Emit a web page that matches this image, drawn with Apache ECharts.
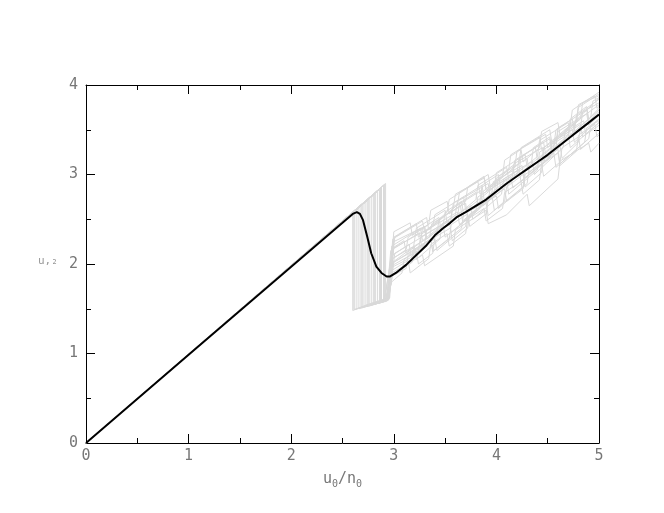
<!DOCTYPE html>
<html><head><meta charset="utf-8">
<script src="https://cdn.jsdelivr.net/npm/echarts@6/dist/echarts.min.js"></script>
<style>html,body{margin:0;padding:0;background:#fff}#c{width:664px;height:513px}</style>
</head><body><div id="c"></div>
<script>
// Mean curve (black)
const meanLine = [[0,0],[1,0.985],[2,1.97],[2.5,2.46],[2.6,2.56],[2.64,2.58],[2.67,2.56],[2.70,2.49],[2.74,2.31],[2.78,2.12],[2.83,1.97],[2.88,1.90],[2.93,1.86],[2.96,1.86],[3.02,1.90],[3.12,1.99],[3.22,2.10],[3.32,2.21],[3.40,2.32],[3.48,2.40],[3.55,2.46],[3.61,2.52],[3.7,2.58],[3.8,2.65],[3.9,2.72],[4.0,2.81],[4.1,2.90],[4.2,2.98],[4.3,3.06],[4.4,3.14],[4.5,3.22],[4.6,3.31],[4.7,3.40],[4.8,3.49],[4.9,3.58],[5.0,3.67]];

// Individual realisations (gray)
const g1 = [[0,0],[2.60,2.57],[2.60,1.48],[2.75,1.55],[2.95,1.62],[2.99,2.02],[3.20,2.20],[3.22,2.05],[3.45,2.28],[3.47,2.45],[3.75,2.65],[3.77,2.50],[4.05,2.78],[4.07,2.95],[4.35,3.15],[4.37,3.00],[4.65,3.30],[4.67,3.50],[5.0,3.78]];
const g2 = [[0,0],[2.62,2.59],[2.62,1.49],[2.93,1.60],[2.97,2.15],[3.25,2.35],[3.27,2.20],[3.55,2.45],[3.57,2.62],[3.85,2.82],[3.87,2.65],[4.15,2.92],[4.17,3.12],[4.45,3.30],[4.47,3.15],[4.75,3.45],[4.77,3.60],[5.0,3.85]];
const g3 = [[0,0],[2.64,2.61],[2.64,1.50],[2.90,1.58],[2.96,1.95],[3.18,2.08],[3.20,2.25],[3.48,2.45],[3.50,2.30],[3.80,2.58],[3.82,2.75],[4.10,2.95],[4.12,2.78],[4.40,3.05],[4.42,3.25],[4.70,3.45],[4.72,3.30],[5.0,3.58]];
const g4 = [[0,0],[2.66,2.63],[2.66,1.50],[2.94,1.60],[3.00,2.25],[3.30,2.42],[3.32,2.28],[3.60,2.55],[3.62,2.70],[3.92,2.90],[3.94,2.74],[4.22,3.02],[4.24,3.20],[4.52,3.40],[4.54,3.25],[4.82,3.52],[4.84,3.70],[5.0,3.80]];
const g5 = [[0,0],[2.68,2.65],[2.68,1.51],[2.92,1.59],[2.98,1.90],[3.28,2.10],[3.30,1.98],[3.58,2.20],[3.60,2.38],[3.90,2.60],[3.92,2.45],[4.10,2.55],[4.30,2.78],[4.32,2.65],[4.60,2.95],[4.62,3.15],[4.90,3.35],[4.92,3.25],[5.0,3.35]];
const g6 = [[0,0],[2.70,2.67],[2.70,1.52],[2.95,1.61],[2.99,2.10],[3.15,2.22],[3.17,2.08],[3.42,2.32],[3.44,2.50],[3.70,2.68],[3.72,2.52],[4.00,2.80],[4.02,2.98],[4.30,3.18],[4.32,3.02],[4.58,3.30],[4.60,3.48],[4.88,3.68],[4.90,3.55],[5.0,3.66]];
const g7 = [[0,0],[2.72,2.69],[2.72,1.52],[2.91,1.58],[2.97,2.05],[3.35,2.30],[3.37,2.45],[3.65,2.65],[3.67,2.48],[3.95,2.75],[3.97,2.92],[4.25,3.10],[4.27,2.95],[4.55,3.22],[4.57,3.40],[4.85,3.60],[4.87,3.45],[5.0,3.58]];
const g8 = [[0,0],[2.74,2.71],[2.74,1.53],[2.94,1.60],[3.01,2.30],[3.22,2.45],[3.24,2.30],[3.52,2.58],[3.54,2.72],[3.82,2.92],[3.84,2.78],[4.12,3.05],[4.14,3.22],[4.42,3.42],[4.44,3.28],[4.72,3.55],[4.74,3.72],[5.0,3.92]];
const g9 = [[0,0],[2.76,2.73],[2.76,1.53],[2.93,1.59],[2.98,1.98],[3.24,2.15],[3.26,2.30],[3.54,2.48],[3.56,2.35],[3.84,2.62],[3.86,2.78],[4.14,2.98],[4.16,2.85],[4.44,3.12],[4.46,3.30],[4.74,3.50],[4.76,3.36],[5.0,3.62]];
const g10 = [[0,0],[2.78,2.75],[2.78,1.54],[2.95,1.61],[3.00,2.18],[3.38,2.42],[3.40,2.55],[3.68,2.75],[3.70,2.60],[3.98,2.86],[4.00,3.02],[4.28,3.22],[4.30,3.08],[4.58,3.35],[4.60,3.52],[4.88,3.72],[4.90,3.60],[5.0,3.70]];
const g11 = [[0,0],[2.80,2.77],[2.80,1.55],[2.92,1.59],[2.96,1.85],[3.12,1.95],[3.14,2.10],[3.40,2.28],[3.42,2.15],[3.70,2.42],[3.72,2.58],[4.00,2.76],[4.02,2.62],[4.30,2.90],[4.32,3.08],[4.60,3.28],[4.62,3.12],[4.90,3.40],[4.92,3.55],[5.0,3.62]];
const g12 = [[0,0],[2.82,2.79],[2.82,1.55],[2.94,1.60],[2.99,2.28],[3.28,2.48],[3.30,2.35],[3.58,2.62],[3.60,2.78],[3.88,2.96],[3.90,2.82],[4.18,3.08],[4.20,3.26],[4.48,3.45],[4.50,3.30],[4.78,3.58],[4.80,3.75],[5.0,3.90]];
const g13 = [[0,0],[2.84,2.81],[2.84,1.56],[2.93,1.59],[2.97,2.00],[3.30,2.22],[3.32,2.38],[3.62,2.58],[3.64,2.44],[3.92,2.70],[3.94,2.86],[4.22,3.05],[4.24,2.92],[4.52,3.18],[4.54,3.36],[4.82,3.56],[4.84,3.42],[5.0,3.55]];
const g14 = [[0,0],[2.86,2.83],[2.86,1.56],[2.95,1.60],[3.01,2.12],[3.20,2.25],[3.22,2.40],[3.50,2.60],[3.52,2.45],[3.80,2.72],[3.82,2.88],[4.10,3.08],[4.12,2.94],[4.40,3.20],[4.42,3.38],[4.70,3.58],[4.72,3.44],[5.0,3.72]];
const g15 = [[0,0],[2.88,2.86],[2.88,1.57],[2.94,1.59],[2.98,2.20],[3.26,2.40],[3.28,2.26],[3.56,2.52],[3.58,2.68],[3.86,2.88],[3.88,2.72],[4.16,3.00],[4.18,3.16],[4.46,3.36],[4.48,3.22],[4.76,3.48],[4.78,3.66],[5.0,3.84]];
const g16 = [[0,0],[2.90,2.88],[2.90,1.58],[2.95,1.60],[3.00,2.02],[3.36,2.28],[3.38,2.14],[3.66,2.40],[3.68,2.56],[3.96,2.74],[3.98,2.60],[4.26,2.86],[4.28,3.04],[4.56,3.24],[4.58,3.08],[4.86,3.36],[4.88,3.52],[5.0,3.60]];
const g17 = [[0,0],[2.92,2.90],[2.92,1.58],[2.96,1.62],[3.00,2.30],[3.32,2.52],[3.34,2.38],[3.62,2.66],[3.64,2.80],[3.92,3.00],[3.94,2.86],[4.22,3.12],[4.24,3.30],[4.52,3.50],[4.54,3.36],[4.82,3.62],[4.84,3.80],[5.0,3.88]];
const g18 = [[0,0],[2.61,2.58],[2.61,1.49],[2.94,1.62],[2.98,1.80],[3.08,1.90],[3.10,2.05],[3.22,2.14],[3.24,2.00],[3.38,2.12],[3.40,2.30],[3.55,2.40],[3.57,2.26],[3.72,2.40],[3.74,2.56],[3.90,2.68],[3.92,2.54],[4.08,2.70],[4.10,2.86],[4.26,3.00],[4.28,2.86],[4.44,3.02],[4.46,3.18],[4.62,3.32],[4.64,3.18],[4.80,3.36],[4.82,3.52],[5.0,3.68]];
const g19 = [[0,0],[2.69,2.66],[2.69,1.51],[2.95,1.62],[2.99,2.18],[3.10,2.26],[3.12,2.12],[3.26,2.24],[3.28,2.40],[3.44,2.52],[3.46,2.38],[3.62,2.52],[3.64,2.68],[3.80,2.80],[3.82,2.66],[3.98,2.80],[4.00,2.96],[4.16,3.10],[4.18,2.96],[4.34,3.12],[4.36,3.30],[4.52,3.42],[4.54,3.28],[4.70,3.44],[4.72,3.62],[4.88,3.76],[4.90,3.62],[5.0,3.74]];
const g20 = [[0,0],[2.75,2.72],[2.75,1.53],[2.93,1.60],[2.97,1.92],[3.14,2.04],[3.16,1.90],[3.34,2.06],[3.36,2.22],[3.52,2.34],[3.54,2.20],[3.70,2.34],[3.72,2.50],[3.88,2.62],[3.90,2.48],[4.06,2.62],[4.08,2.80],[4.24,2.92],[4.26,2.78],[4.42,2.94],[4.44,3.12],[4.60,3.24],[4.62,3.10],[4.78,3.26],[4.80,3.44],[4.96,3.56],[4.98,3.42],[5.0,3.44]];
const g21 = [[0,0],[2.81,2.78],[2.81,1.55],[2.95,1.61],[3.00,2.36],[3.16,2.46],[3.18,2.32],[3.34,2.44],[3.36,2.60],[3.52,2.70],[3.54,2.56],[3.70,2.70],[3.72,2.86],[3.88,2.98],[3.90,2.84],[4.06,2.98],[4.08,3.16],[4.24,3.28],[4.26,3.14],[4.42,3.30],[4.44,3.48],[4.60,3.58],[4.62,3.44],[4.78,3.60],[4.80,3.78],[4.96,3.88],[4.98,3.74],[5.0,3.76]];
const g22 = [[0,0],[2.87,2.85],[2.87,1.57],[2.94,1.60],[2.99,1.88],[3.18,2.02],[3.20,2.16],[3.36,2.28],[3.38,2.14],[3.54,2.28],[3.56,2.44],[3.72,2.56],[3.74,2.42],[3.90,2.56],[3.92,2.72],[4.08,2.84],[4.10,2.70],[4.26,2.84],[4.28,3.00],[4.44,3.12],[4.46,2.98],[4.62,3.14],[4.64,3.30],[4.80,3.42],[4.82,3.28],[5.0,3.46]];
const g23 = [[0,0],[2.91,2.89],[2.91,1.58],[2.95,1.61],[2.99,2.06],[3.12,2.16],[3.14,2.30],[3.30,2.42],[3.32,2.28],[3.48,2.42],[3.50,2.58],[3.66,2.70],[3.68,2.56],[3.84,2.70],[3.86,2.88],[4.02,3.00],[4.04,2.86],[4.20,3.00],[4.22,3.18],[4.38,3.30],[4.40,3.16],[4.56,3.32],[4.58,3.50],[4.74,3.62],[4.76,3.48],[4.92,3.64],[4.94,3.82],[5.0,3.86]];

const grayLines = [g1,g2,g3,g4,g5,g6,g7,g8,g9,g10,g11,g12,g13,g14,g15,g16,g17,g18,g19,g20,g21,g22,g23];

const labelStyle = {color:'#777', fontFamily:'DejaVu Sans Mono', fontSize:15};
const lineStyleAxis = {color:'#000', width:1};

function xAx(pos, showLabel){
  return {type:'value', position:pos, min:0, max:5, interval:1,
    axisLine:{show:true, onZero:false, lineStyle:lineStyleAxis},
    axisTick:{show:true, inside:true, length:9, lineStyle:{color:'#000'}},
    minorTick:{show:true, splitNumber:2, length:5, lineStyle:{color:'#000'}},
    splitLine:{show:false}, minorSplitLine:{show:false},
    axisLabel:Object.assign({show:showLabel, margin:6}, labelStyle),
    name: showLabel ? '{n|u}{s|0}{n|/n}{s|0}' : '', nameLocation:'middle', nameGap:26,
    nameTextStyle:{rich:{n:{color:'#777',fontFamily:'DejaVu Sans Mono',fontSize:15},s:{color:'#777',fontFamily:'DejaVu Sans Mono',fontSize:10,padding:[10,0,0,0]}}}
  };
}
function yAx(pos, showLabel){
  return {type:'value', position:pos, min:0, max:4, interval:1,
    axisLine:{show:true, onZero:false, lineStyle:lineStyleAxis},
    axisTick:{show:true, inside:true, length:9, lineStyle:{color:'#000'}},
    minorTick:{show:true, splitNumber:2, length:5, lineStyle:{color:'#000'}},
    splitLine:{show:false}, minorSplitLine:{show:false},
    axisLabel:Object.assign({show:showLabel, margin:8}, labelStyle)
  };
}

const series = grayLines.map(d => ({type:'line', data:d, showSymbol:false, symbol:'none',
  lineStyle:{color:'#d9d9d9', width:1}, z:1, silent:true}));
series.push({type:'line', data:meanLine, showSymbol:false, symbol:'none',
  lineStyle:{color:'#000', width:2}, z:5});

const chart = echarts.init(document.getElementById('c'), null, {renderer:'canvas'});
chart.setOption({
  animation:false,
  backgroundColor:'#fff',
  grid:{left:86, right:65, top:85, bottom:70, containLabel:false},
  xAxis:[xAx('bottom', true), xAx('top', false)],
  yAxis:[yAx('left', true), yAx('right', false)],
  graphic:[{type:'text', left:38, top:256, style:{text:'u,₂', fill:'#999', font:'11px DejaVu Sans Mono'}}],
  series: series
});
</script></body></html>
